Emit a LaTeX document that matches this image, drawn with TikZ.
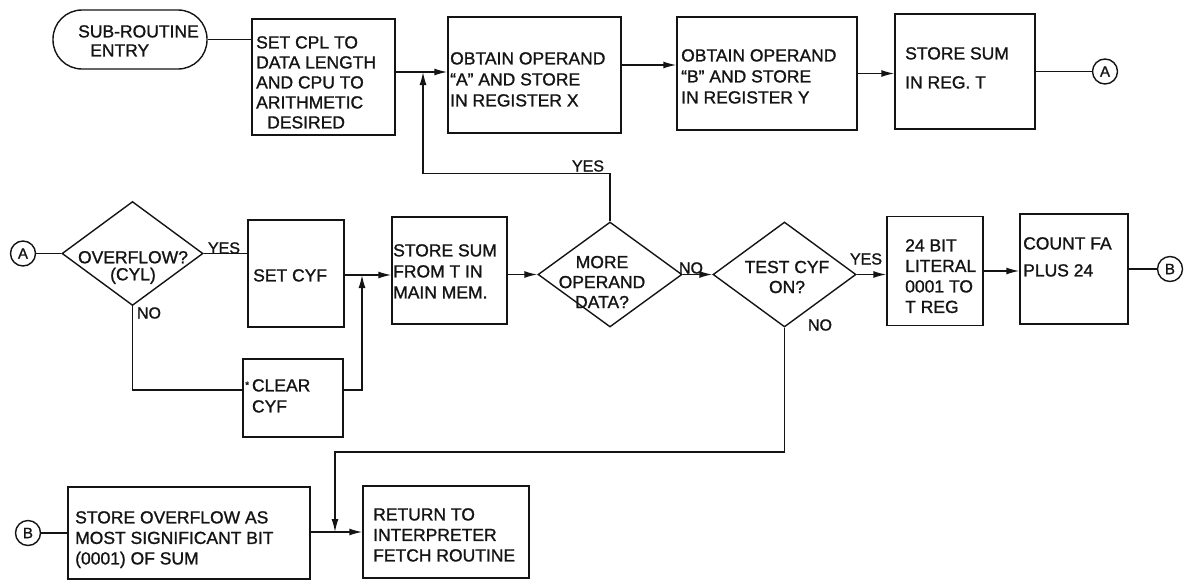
\documentclass[tikz,border=0pt]{standalone}
\usepackage{fontspec}
\setmainfont{Liberation Sans}
\newfontfamily\fcfont{Liberation Sans}[FakeBold=1.2,Ligatures=TeX]
\usetikzlibrary{arrows.meta,shapes.geometric}
\definecolor{FCInk}{HTML}{141414}
\tikzset{
  flow/.style={-{Latex[length=13pt,width=7pt]},FCInk,line width=1.4pt},
  link/.style={FCInk,line width=1.4pt},
  procbox/.style={draw=FCInk,line width=1.4pt,inner sep=0pt},
  terminal/.style={procbox,rounded corners=29pt},
  decision/.style={diamond,draw=FCInk,line width=1.4pt,inner sep=0pt},
  connector/.style={circle,draw=FCInk,line width=1.4pt,minimum size=25pt,inner sep=0pt,
                    text=FCInk,font=\fcfont\fontsize{15}{15}\selectfont},
  boxtext/.style={anchor=north west,align=left,inner sep=0pt,text=FCInk,
                  font=\fcfont\fontsize{17.5}{20.5}\selectfont},
  dectext/.style={align=center,inner sep=0pt,text=FCInk,font=\fcfont\fontsize{17.5}{20}\selectfont},
  branch/.style={inner sep=0pt,text=FCInk,font=\fcfont\fontsize{16}{18}\selectfont},
}

\begin{document}
\begin{tikzpicture}[x=1pt,y=-1pt]
    \useasboundingbox (0,0) rectangle (1188,581);

    \node[terminal,minimum width=154pt,minimum height=59pt] (entry) at (130,39.5) {};
    \node[boxtext] (entryT) at (78,25) {SUB-ROUTINE\\[-1.5pt]\hspace*{12pt}ENTRY};
    \node[procbox,minimum width=143pt,minimum height=116pt] (setcpl) at (323.5,77) {};
    \node[boxtext,font=\fcfont\fontsize{17.5}{20}\selectfont] (setcplT) at (256,36)
      {SET CPL TO\\DATA LENGTH\\AND CPU TO\\ARITHMETIC\\\hspace*{11pt}DESIRED};
    \node[procbox,minimum width=173pt,minimum height=116pt] (obtA) at (534.5,75) {};
    \node[boxtext,font=\fcfont\fontsize{17.5}{21}\selectfont] (obtAT) at (450,52)
      {OBTAIN OPERAND\\“A” AND STORE\\IN REGISTER X};
    \node[procbox,minimum width=180pt,minimum height=113pt] (obtB) at (767,73.5) {};
    \node[boxtext,font=\fcfont\fontsize{17.5}{21}\selectfont] (obtBT) at (681,49)
      {OBTAIN OPERAND\\“B” AND STORE\\IN REGISTER Y};
    \node[procbox,minimum width=140pt,minimum height=115pt] (storeT) at (965,71.5) {};
    \node[boxtext] (storeTT) at (905,47) {STORE SUM\\[8.5pt]IN REG. T};
    \node[connector] (circA) at (1105,71.5) {A};

    \coordinate (jA) at (423,72);
    \draw[link] (entry.east) -- (entry.east -| setcpl.west);
    \draw[flow] (setcpl.east |- jA) -- (jA -| obtA.west);
    \draw[flow] ([yshift=10pt]obtA.east) -- ([yshift=10pt]obtA.east -| obtB.west);
    \draw[flow] (obtB.east) -- (obtB.east -| storeT.west);
    \draw[link] (storeT.east) -- (circA);

    \node[connector] (circA2) at (23,253.5) {A};
    \node[decision,minimum width=141pt,minimum height=104pt] (ovfD) at (132.5,253.5) {};
    \node[dectext,font=\fcfont\fontsize{17.5}{17}\selectfont] (ovfT) at (133,267.5) {OVERFLOW?\\(CYL)};
    \node[procbox,minimum width=96pt,minimum height=107pt] (setcyf) at (296,273.5) {};
    \node[boxtext] (setcyfT) at (253,269) {SET CYF};
    \node[procbox,minimum width=100pt,minimum height=78pt] (clrcyf) at (293,398) {};
    \node[boxtext,font=\fcfont\fontsize{17.5}{21}\selectfont] (clrcyfT) at (245,379)
      {{\fontsize{10}{10}\selectfont\raisebox{3pt}{*}}\,CLEAR\\
       \phantom{{\fontsize{10}{10}\selectfont *}\,}CYF};
    \node[procbox,minimum width=115pt,minimum height=107pt] (sumT) at (449.5,270.5) {};
    \node[boxtext,font=\fcfont\fontsize{17.5}{21}\selectfont] (sumTT) at (393,244)
      {STORE SUM\\FROM T IN\\MAIN MEM.};
    \node[decision,minimum width=144pt,minimum height=105pt] (moreD) at (610,274.5) {};
    \node[dectext] (moreT) at (602,282) {MORE\\OPERAND\\DATA?};
    \node[decision,minimum width=143pt,minimum height=105pt] (testD) at (784.5,274.5) {};
    \node[dectext] (testT) at (787,277) {TEST CYF\\ON?};
    \node[procbox,minimum width=96pt,minimum height=109pt] (b24) at (935,271) {};
    \node[boxtext] (b24T) at (905,239) {24 BIT\\LITERAL\\0001 TO\\T REG};
    \node[procbox,minimum width=108pt,minimum height=110pt] (cntFA) at (1074,269) {};
    \node[boxtext] (cntFAT) at (1023,237) {COUNT FA\\[6.5pt]PLUS 24};
    \node[connector] (circB) at (1170,269) {B};

    \node[branch] (yesOvf) at (224,248) {YES};
    \node[branch] (noOvf) at (149,313) {NO};
    \node[branch] (yesMore) at (588,166) {YES};
    \node[branch] (noMore) at (691,268) {NO};
    \node[branch] (yesTest) at (866,259) {YES};
    \node[branch] (noTest) at (820,325) {NO};

    \coordinate (jS) at (362,275);
    \draw[link] (circA2) -- (ovfD.west);
    \draw[link] (ovfD.east) -- (ovfD.east -| setcyf.west);
    \draw[link] (ovfD.south) |- ([yshift=8pt]clrcyf.west);
    \draw[flow] (setcyf.east |- jS) -- (jS -| sumT.west);
    \draw[flow] ([yshift=8pt]clrcyf.east) -| (jS);
    \draw[flow] (sumT.east |- moreD.west) -- (moreD.west);
    \draw[flow] (moreD.north) -- ++(0,-48) -| (jA);
    \draw[flow] (moreD.east) -- (testD.west);
    \draw[flow] (testD.east) -- (testD.east -| b24.west);
    \draw[flow] (b24.east) -- (b24.east -| cntFA.west);
    \draw[link] (cntFA.east) -- (circB);

    \node[connector] (circB2) at (28,533) {B};
    \node[procbox,minimum width=242pt,minimum height=92pt] (ovfStore) at (189,533) {};
    \node[boxtext] (ovfStoreT) at (75,511)
      {STORE OVERFLOW AS\\MOST SIGNIFICANT BIT\\(0001) OF SUM};
    \node[procbox,minimum width=166pt,minimum height=92pt] (retn) at (446,532) {};
    \node[boxtext] (retnT) at (373,508) {RETURN TO\\INTERPRETER\\FETCH ROUTINE};

    \coordinate (bend) at (335,452);
    \coordinate (jR) at (335,532);
    \draw[link] (circB2) -- (circB2 -| ovfStore.west);
    \draw[flow] (ovfStore.east |- jR) -- (jR -| retn.west);
    \draw[flow] (testD.south) |- (bend) -- (jR);
\end{tikzpicture}
\end{document}
